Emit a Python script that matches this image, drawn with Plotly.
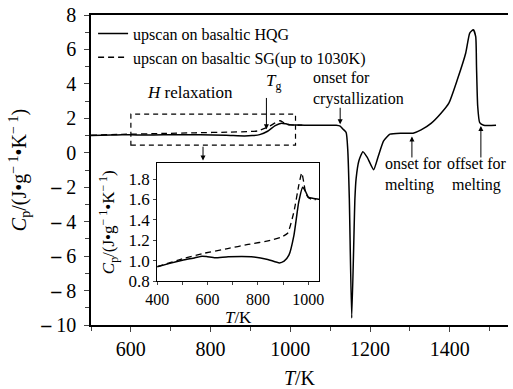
import plotly.graph_objects as go

# HQG upscan (solid)
T_hqg = [400, 450, 500, 550, 578, 600, 630, 682, 774, 839, 885, 904, 923, 943, 962, 978, 989,
         1001, 1021, 1050, 1100, 1115, 1125, 1131, 1140, 1144, 1148, 1154, 1162, 1165, 1172, 1182,
         1193, 1209, 1221, 1234, 1250, 1279, 1308, 1328, 1353, 1378, 1398, 1419, 1440, 1450, 1459,
         1465, 1467, 1470, 1475, 1485, 1516]
Cp_hqg = [0.943, 0.975, 1.005, 1.03, 1.046, 1.04, 1.03, 1.04, 1.04, 1.014, 0.98, 0.997, 1.055,
          1.25, 1.574, 1.72, 1.68, 1.62, 1.61, 1.6, 1.6, 1.6, 1.55, 1.4, 1.18, 0.2, -2.67, -9.6,
          -2.67, -1.5, -0.46, 0.06, -0.27, -0.98, -0.17, 0.69, 1.08, 1.14, 1.14, 1.33, 1.71, 2.3,
          2.9, 4.25, 5.79, 6.95, 7.14, 6.75, 5.0, 2.71, 1.75, 1.6, 1.6]

# SG upscan up to 1030 K (dashed)
T_sg = [400, 500, 578, 680, 761, 850, 891, 918, 943, 962, 974, 982, 990, 1000, 1015, 1030]
Cp_sg = [0.943, 1.02, 1.07, 1.12, 1.16, 1.20, 1.23, 1.27, 1.48, 1.735, 1.86, 1.77, 1.66, 1.62, 1.6, 1.6]

main_xticks = [600, 800, 1000, 1200, 1400]
main_yticks = [8, 6, 4, 2, 0, -2, -4, -6, -8, -10]
inset_xticks = [400, 600, 800, 1000]
inset_yticks = [0.8, 1.0, 1.2, 1.4, 1.6, 1.8]

FONT = "'Liberation Serif', 'DejaVu Serif', serif"
dash = "6px,4px"
CP_TITLE = "<i>C</i><sub>p</sub>/(J•g<sup>− 1</sup>•K<sup>− 1</sup>)"

fig = go.Figure()
line_solid = dict(color="black", width=1.5, shape="spline", smoothing=0.5)
line_dash = dict(color="black", width=1.3, dash=dash, shape="spline", smoothing=0.5)
fig.add_trace(go.Scatter(x=T_hqg, y=Cp_hqg, mode="lines", line=line_solid,
                         name="upscan on basaltic HQG", xaxis="x", yaxis="y"))
fig.add_trace(go.Scatter(x=T_sg, y=Cp_sg, mode="lines", line=line_dash,
                         name="upscan on basaltic SG(up to 1030K)", xaxis="x", yaxis="y"))
fig.add_trace(go.Scatter(x=T_hqg, y=Cp_hqg, mode="lines", line=line_solid,
                         showlegend=False, xaxis="x2", yaxis="y2"))
fig.add_trace(go.Scatter(x=T_sg, y=Cp_sg, mode="lines", line=line_dash,
                         showlegend=False, xaxis="x2", yaxis="y2"))

def mlabel(v):
    return "<b>\u2013</b> " + str(abs(v)) if v < 0 else str(v)

fig.update_layout(
    width=513, height=389,
    margin=dict(l=91, r=0, t=15, b=62),
    paper_bgcolor="white", plot_bgcolor="white",
    font=dict(family=FONT, size=20, color="black"),
    showlegend=True,
    legend=dict(x=0.005, y=0.995, xanchor="left", yanchor="top", bgcolor="rgba(0,0,0,0)",
                font=dict(size=16), tracegroupgap=0),
    xaxis=dict(domain=[0, 1], range=[500, 1546], showline=True, linecolor="black", linewidth=1.5,
               mirror=True, ticks="outside", ticklen=5, tickwidth=1, tickvals=main_xticks,
               minor=dict(dtick=100, ticks="outside", ticklen=4, tickwidth=1),
               showgrid=False, zeroline=False, tickfont=dict(size=20),
               title=dict(text="<i>T</i>/K", standoff=15, font=dict(size=20))),
    yaxis=dict(domain=[0, 1], range=[-10, 8], showline=True, linecolor="black", linewidth=1.5,
               ticks="outside", ticklen=5, tickwidth=1, tickvals=main_yticks,
               ticktext=[mlabel(v) for v in main_yticks], ticklabelstandoff=4,
               minor=dict(dtick=1, ticks="outside", ticklen=4, tickwidth=1),
               showgrid=False, zeroline=False, tickfont=dict(size=20),
               title=dict(text=CP_TITLE, standoff=8, font=dict(size=20))),
    xaxis2=dict(domain=[0.1588, 0.547], anchor="y2", range=[400, 1043], showline=True,
                linecolor="black", linewidth=1.2, mirror=True, ticks="outside", ticklen=3,
                tickvals=inset_xticks, minor=dict(dtick=100, ticks="outside", ticklen=3),
                showgrid=False, zeroline=False, tickfont=dict(size=16),
                title=dict(text="<i>T</i>/K", standoff=0, font=dict(size=17))),
    yaxis2=dict(domain=[0.141, 0.522], anchor="x2", range=[0.8, 1.955], showline=True,
                linecolor="black", linewidth=1.2, mirror=True, ticks="outside", ticklen=3,
                tickvals=inset_yticks, ticktext=["0.8", "1.0", "1.2", "1.4", "1.6", "1.8"],
                showgrid=False, zeroline=False, tickfont=dict(size=17),
                title=dict(text=CP_TITLE, standoff=9, font=dict(size=17))),
)

# dashed box around H relaxation region
fig.add_shape(type="rect", xref="x", yref="y", x0=600, x1=1013, y0=0.45, y1=2.25,
              line=dict(color="black", width=1.2, dash="5px,4px"))

def arrow(x, y_tail, y_head):
    fig.add_annotation(x=x, y=y_head, ax=x, ay=y_tail, xref="x", yref="y", axref="x", ayref="y",
                       showarrow=True, arrowhead=2, arrowsize=1, arrowwidth=1, arrowcolor="black", text="")

arrow(781, 0.44, -0.45)
arrow(940, 3.27, 1.37)
arrow(1125, 2.7, 1.66)
arrow(1305, -0.36, 0.95)
arrow(1478, -0.36, 1.55)

ann_font = dict(family=FONT, size=16, color="black")
fig.add_annotation(x=748, y=3.5, xref="x", yref="y", text="<i>H</i> relaxation", showarrow=False,
                   font=dict(family=FONT, size=17, color="black"))
fig.add_annotation(x=957, y=4.1, xref="x", yref="y", text="<i>T</i><sub>g</sub>", showarrow=False,
                   font=dict(family=FONT, size=17, color="black"))
fig.add_annotation(x=1053, y=3.76, xref="x", yref="y", xanchor="left", text="onset for<br>crystallization",
                   showarrow=False, font=ann_font, align="left")
fig.add_annotation(x=1233, y=-1.25, xref="x", yref="y", xanchor="left", text="onset for<br>melting",
                   showarrow=False, font=ann_font, align="left")
fig.add_annotation(x=1466, y=-1.25, xref="x", yref="y", text="offset for<br>melting",
                   showarrow=False, font=ann_font, align="center")

fig.write_html("out.html")
